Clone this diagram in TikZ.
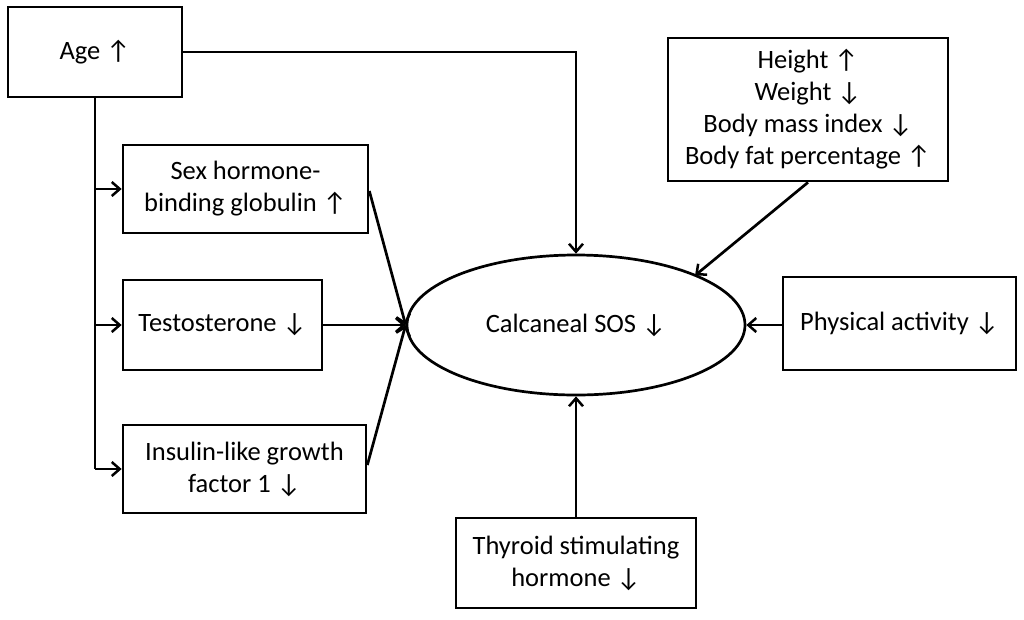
\documentclass[tikz,border=0pt]{standalone}
\usepackage{fontspec}
\setmainfont{Carlito}
\usetikzlibrary{arrows.meta,shapes.geometric}
\begin{document}
\begin{tikzpicture}[x=1pt,y=-1pt,
  txt/.style={font=\fontsize{26.5}{32}\selectfont},
  box/.style={draw,line width=2.7pt,rectangle,inner sep=0pt,align=center,txt},
  conn/.style={line width=2.7pt,-{Straight Barb[length=8pt,width=14pt,line width=2.5pt]}},
  plain/.style={line width=2.7pt}]
\useasboundingbox (0,0) rectangle (1024,619);
\node[box,minimum width=174pt,minimum height=90pt] (age) at (95,52) {Age ↑};
\node[box,minimum width=245pt,minimum height=88pt] (shbg) at (245.5,189) {Sex hormone-\\binding globulin ↑};
\node[box,minimum width=199pt,minimum height=90pt] (test) at (222.5,325) {Testosterone ↓};
\node[box,minimum width=243pt,minimum height=88pt] (igf) at (244.5,469) {Insulin-like growth\\factor 1 ↓};
\node[draw,line width=2.7pt,ellipse,minimum width=338pt,minimum height=140pt,inner sep=0pt,txt] (sos) at (576,325) {Calcaneal SOS ↓};
\node[box,minimum width=280pt,minimum height=143pt] (body) at (808,109.5) {Height ↑\\Weight ↓\\Body mass index ↓\\Body fat percentage ↑};
\node[box,minimum width=233pt,minimum height=93pt] (phys) at (899.5,323.5) {Physical activity ↓};
\node[box,minimum width=240pt,minimum height=90pt] (thy) at (576,563) {Thyroid stimulating\\hormone ↓};
\coordinate (c1) at (576,52);
\coordinate (v0) at (95,189);
\coordinate (v1) at (95,325);
\coordinate (v2) at (95,469);
\coordinate (sosne) at (695,275.5);
\draw[conn] (age.east |- c1) -- (c1) -- (sos.north);
\draw[plain] (age.south) -- (v2);
\draw[conn] (v0) -- (shbg.west);
\draw[conn] (v1) -- (test.west);
\draw[conn] (v2) -- (igf.west);
\draw[conn] ([yshift=-2pt]shbg.east) -- (sos.west);
\draw[conn] (test.east) -- (sos.west);
\draw[conn] ([yshift=4pt]igf.east) -- (sos.west);
\draw[conn] (body.south) -- (sosne);
\draw[conn] (phys.west |- sos.east) -- (sos.east);
\draw[conn] (thy.north) -- (sos.south);
\end{tikzpicture}
\end{document}
